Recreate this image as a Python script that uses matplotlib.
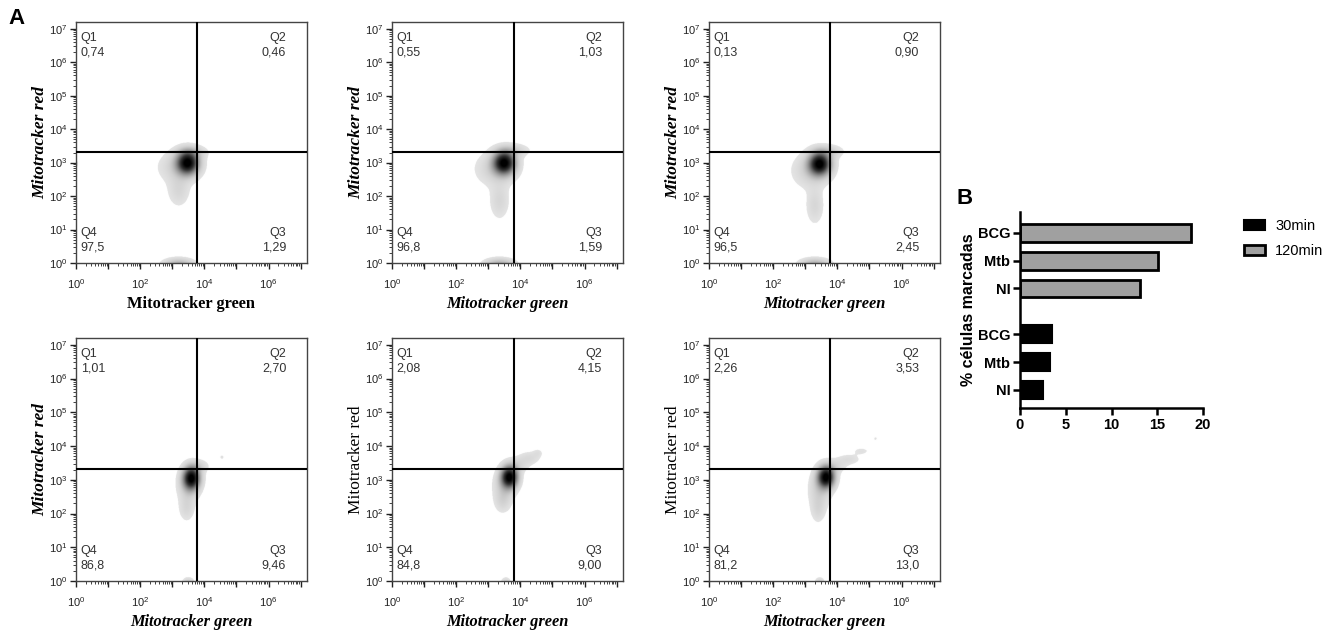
import numpy as np
import matplotlib
matplotlib.use("Agg")
import matplotlib.pyplot as plt
from matplotlib.colors import LinearSegmentedColormap
from matplotlib.patches import Patch
from matplotlib.ticker import FixedLocator, FuncFormatter

plt.rcParams["font.family"] = ["Liberation Sans", "DejaVu Sans"]
plt.rcParams["mathtext.fontset"] = "custom"
plt.rcParams["mathtext.rm"] = "Liberation Sans"

# --- panel A: quadrant percentages (Q1, Q2, Q3, Q4) per sample ---
q1 = ["0,74", "0,55", "0,13", "1,01", "2,08", "2,26"]
q2 = ["0,46", "1,03", "0,90", "2,70", "4,15", "3,53"]
q3 = ["1,29", "1,59", "2,45", "9,46", "9,00", "13,0"]
q4 = ["97,5", "96,8", "96,5", "86,8", "84,8", "81,2"]

# gate positions (log10 units)
gate_x = [3.78, 3.79, 3.76, 3.78, 3.79, 3.77]
gate_y = [3.32, 3.32, 3.32, 3.32, 3.32, 3.32]

# density components per sample: (log10 green, log10 red, sd green, sd red, weight)
blobs = [
    [(3.48, 2.98, 0.22, 0.22, 1.0), (3.22, 2.85, 0.40, 0.30, 0.14), (3.20, 2.15, 0.22, 0.30, 0.10),
     (3.62, 3.30, 0.30, 0.13, 0.12), (3.20, -0.05, 0.30, 0.12, 0.28), (0.0, 2.95, 0.05, 0.08, 0.08)],
    [(3.50, 2.98, 0.22, 0.22, 1.0), (3.25, 2.80, 0.40, 0.32, 0.14), (3.35, 1.85, 0.20, 0.35, 0.10),
     (3.78, 3.35, 0.32, 0.13, 0.12), (3.35, -0.05, 0.30, 0.12, 0.28)],
    [(3.45, 2.95, 0.22, 0.22, 1.0), (3.20, 2.75, 0.38, 0.33, 0.14), (3.30, 1.70, 0.18, 0.35, 0.10),
     (3.72, 3.32, 0.30, 0.13, 0.12), (3.30, -0.05, 0.30, 0.12, 0.28)],
    [(3.60, 3.05, 0.17, 0.22, 1.0), (3.50, 2.80, 0.22, 0.32, 0.14), (3.45, 2.15, 0.16, 0.25, 0.09),
     (3.85, 3.40, 0.20, 0.13, 0.09), (4.55, 3.67, 0.05, 0.05, 0.06), (3.50, -0.05, 0.12, 0.10, 0.14)],
    [(3.66, 3.08, 0.17, 0.21, 1.0), (3.50, 2.80, 0.22, 0.30, 0.14), (3.45, 2.35, 0.17, 0.22, 0.09),
     (3.95, 3.45, 0.22, 0.15, 0.09), (4.30, 3.65, 0.22, 0.13, 0.08), (4.55, 3.80, 0.10, 0.08, 0.05),
     (3.55, -0.05, 0.10, 0.10, 0.12)],
    [(3.65, 3.08, 0.17, 0.21, 1.0), (3.45, 2.70, 0.22, 0.35, 0.14), (3.40, 2.10, 0.15, 0.25, 0.08),
     (3.95, 3.40, 0.22, 0.13, 0.08), (4.35, 3.60, 0.25, 0.11, 0.07), (4.75, 3.85, 0.18, 0.08, 0.05),
     (5.19, 4.22, 0.04, 0.04, 0.06), (3.45, -0.05, 0.10, 0.10, 0.12)],
]

x_italic = [False, True, True, True, True, True]
y_style = ["bi", "bi", "bi", "bi", "r", "r"]

# --- panel B ---
groups = ["NI", "Mtb", "BCG"]
pct_30 = [2.5, 3.3, 3.5]
pct_120 = [13.1, 15.1, 18.65]

W, H = 1335, 636
fig = plt.figure(figsize=(W / 100, H / 100), dpi=100)

lefts = [76, 392, 709]
rows = [(22, 263), (338, 581)]
LIM = 7.2

cmap = LinearSegmentedColormap.from_list(
    "flow", [(0.0, "#e4e4e4"), (0.1, "#d0d0d0"), (0.35, "#8c8c8c"), (0.65, "#343434"), (0.92, "#000000"),
             (1.0, "#000000")])
cmap.set_under((1, 1, 1, 0))

gx = np.linspace(0, LIM, 600)
gy = np.linspace(0, LIM, 600)
GX, GY = np.meshgrid(gx, gy)

minor = [n + np.log10(k) for n in range(8) for k in range(2, 10) if n + np.log10(k) <= LIM]

for i in range(6):
    r, c = divmod(i, 3)
    top, bot = rows[r]
    ax = fig.add_axes([lefts[c] / W, (H - bot) / H, 231 / W, (bot - top) / H])

    dens = np.zeros_like(GX)
    for cx, cy, sx, sy, w in blobs[i]:
        dens += w * np.exp(-0.5 * (((GX - cx) / sx) ** 2 + ((GY - cy) / sy) ** 2))
    dens = dens / dens.max()
    ax.imshow(dens, extent=[0, LIM, 0, LIM], origin="lower", cmap=cmap,
              vmin=0.03, vmax=1.0, aspect="auto", interpolation="bilinear", zorder=1)

    ax.axvline(gate_x[i], color="black", lw=1.5, zorder=3)
    ax.axhline(gate_y[i], color="black", lw=1.5, zorder=3)
    ax.set_xlim(0, LIM)
    ax.set_ylim(0, LIM)

    ax.xaxis.set_major_locator(FixedLocator(range(8)))
    ax.yaxis.set_major_locator(FixedLocator(range(8)))
    ax.xaxis.set_minor_locator(FixedLocator(minor))
    ax.yaxis.set_minor_locator(FixedLocator(minor))
    ax.xaxis.set_major_formatter(FuncFormatter(lambda v, p: f"$10^{{{int(v)}}}$" if int(v) % 2 == 0 and v < 7 else ""))
    ax.yaxis.set_major_formatter(FuncFormatter(lambda v, p: f"$10^{{{int(v)}}}$"))
    ax.tick_params(which="major", direction="out", length=4, width=1, labelsize=8, colors="#222222", pad=2)
    ax.tick_params(which="minor", direction="out", length=2, width=0.6, colors="#222222")
    ax.tick_params(axis="x", which="major", pad=6)
    for s in ax.spines.values():
        s.set_color("#444444")
        s.set_linewidth(1)

    tk = dict(fontsize=9, color="#333333", zorder=4)
    ax.text(0.02, 0.935, "Q1", transform=ax.transAxes, ha="left", va="center", **tk)
    ax.text(0.02, 0.873, q1[i], transform=ax.transAxes, ha="left", va="center", **tk)
    ax.text(0.91, 0.935, "Q2", transform=ax.transAxes, ha="right", va="center", **tk)
    ax.text(0.91, 0.873, q2[i], transform=ax.transAxes, ha="right", va="center", **tk)
    ax.text(0.02, 0.125, "Q4", transform=ax.transAxes, ha="left", va="center", **tk)
    ax.text(0.02, 0.063, q4[i], transform=ax.transAxes, ha="left", va="center", **tk)
    ax.text(0.91, 0.125, "Q3", transform=ax.transAxes, ha="right", va="center", **tk)
    ax.text(0.91, 0.063, q3[i], transform=ax.transAxes, ha="right", va="center", **tk)

    ax.set_xlabel("Mitotracker green", family="Liberation Serif", fontsize=11.8, fontweight="bold",
                  fontstyle="italic" if x_italic[i] else "normal", labelpad=3.5)
    ys = y_style[i]
    ax.set_ylabel("Mitotracker red", family="Liberation Serif", fontsize=12.5,
                  fontweight="bold" if "b" in ys else "normal",
                  fontstyle="italic" if "i" in ys else "normal", labelpad=0.5)

# panel B
axb = fig.add_axes([1020 / W, (H - 408) / H, 183 / W, 196 / H])
pos30 = np.arange(3)
pos120 = np.arange(3) + 3.65
axb.barh(pos30, pct_30, height=0.64, color="black", edgecolor="black", lw=1.5, label="30min")
axb.barh(pos120, pct_120, height=0.64, color="#a0a0a0", edgecolor="black", lw=2, label="120min")
axb.set_xlim(0, 20)
axb.set_ylim(-0.65, 6.4)
axb.set_yticks(list(pos30) + list(pos120))
axb.set_yticklabels(groups + groups)
axb.set_xticks([0, 5, 10, 15, 20])
for s in ["top", "right"]:
    axb.spines[s].set_visible(False)
for s in ["left", "bottom"]:
    axb.spines[s].set_linewidth(1.8)
axb.tick_params(width=1.8, length=5, labelsize=10.5, pad=2)
for lab in axb.get_xticklabels() + axb.get_yticklabels():
    lab.set_fontweight("bold")
axb.set_ylabel("% células marcadas", fontsize=11.5, fontweight="bold", labelpad=1)

handles = [Patch(facecolor="black", edgecolor="black", lw=1.5, label="30min"),
           Patch(facecolor="#a0a0a0", edgecolor="black", lw=2, label="120min")]
fig.legend(handles=handles, loc="upper left", bbox_to_anchor=(1244 / W, 1 - 219 / H), frameon=False,
           fontsize=10.5, handlelength=1.45, handleheight=0.7, labelspacing=0.75, handletextpad=0.7,
           borderpad=0, borderaxespad=0)

fig.text(8 / W, 1 - 18 / H, "A", fontsize=16, fontweight="bold", va="center", ha="left")
fig.text(957 / W, 1 - 198 / H, "B", fontsize=16, fontweight="bold", va="center", ha="left")

fig.savefig("out.png", dpi=100)
plt.close(fig)
